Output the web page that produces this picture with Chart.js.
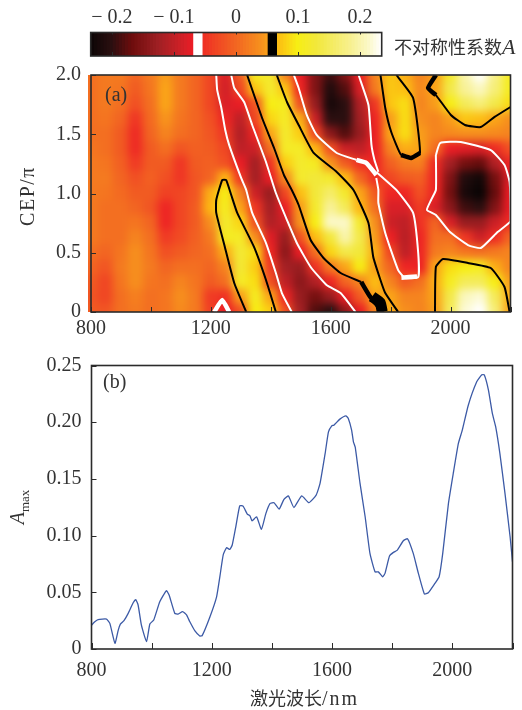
<!DOCTYPE html>
<html>
<head>
<meta charset="utf-8">
<script src="https://cdn.jsdelivr.net/npm/chart.js@4"></script>
<style>
html, body { margin: 0; padding: 0; background: #fff; }
body { position: relative; width: 522px; height: 710px; overflow: hidden; }
canvas { position: absolute; left: 0; }
.txt { position: absolute; color: #333; white-space: nowrap; font-family: "Liberation Serif", serif; font-size: 20px; line-height: 1; }
.cjk { font-family: "Noto Sans CJK SC", sans-serif; font-size: 18px; }
.rot { transform: translate(-50%, -50%) rotate(-90deg); }
sub { font-size: 13px; line-height: 0; }
</style>
</head>
<body>
<canvas id="barChart" width="522" height="62" style="top:0"></canvas>
<canvas id="heatChart" width="522" height="280" style="top:60px"></canvas>
<canvas id="lineChart" width="522" height="365" style="top:345px"></canvas>

<div class="txt" style="left:105px;top:84px">(a)</div>
<div class="txt" style="left:103px;top:371px">(b)</div>
<div class="txt cjk" style="left:394px;top:36px">不对称性系数<i style="font-family:'Liberation Serif',serif;font-size:22px">A</i></div>
<div class="txt rot" style="left:27px;top:196px;letter-spacing:1.5px">CEP/π</div>
<div class="txt rot" style="left:17px;top:507px"><i>A</i><sub>max</sub></div>
<div class="txt" style="left:250px;top:688px"><span class="cjk">激光波长</span><span style="letter-spacing:2px">/nm</span></div>

<script>
// ---- panel (b) curve
const curveNm = [800, 811, 822, 850, 861, 878, 889, 896, 908, 922, 939, 947, 955, 966, 983, 994, 1007, 1027, 1049, 1058,
    1077, 1088, 1103, 1116, 1127, 1144, 1160, 1168, 1194, 1216, 1227, 1238, 1249, 1260, 1268, 1280, 1293, 1304, 1318, 1327,
    1334, 1349, 1365, 1380, 1394, 1407, 1424, 1440, 1455, 1473, 1499, 1523, 1547, 1560, 1577, 1588, 1599, 1606, 1626, 1646,
    1654, 1665, 1671, 1677, 1693, 1710, 1726, 1743, 1754, 1768, 1776, 1791, 1804, 1817, 1837, 1851, 1870, 1887, 1907, 1920,
    1942, 1956, 1968, 1987, 2003, 2020, 2033, 2053, 2081, 2098, 2106, 2120, 2133, 2144, 2158, 2175, 2192, 2200];
const curveAmax = [.021, .024, .026, .0264, .0226, .005, .0167, .022, .025, .0314, .041, .0435, .0388, .021, .0065, .022, .0256, .0417, .0514, .0476,
    .0314, .0308, .033, .03, .024, .0159, .0115, .0118, .0285, .046, .064, .083, .0893, .0878, .0917, .108, .1263, .126, .119, .1175,
    .113, .1166, .1055, .1196, .1284, .129, .1234, .132, .135, .1248, .135, .129, .1357, .146, .1725, .1915, .1968, .1974, .2027, .2056,
    .2033, .193, .1827, .178, .146, .1166, .0843, .068, .068, .0637, .0667, .082, .0852, .0872, .0955, .0972, .0843, .0667, .0485, .0496,
    .0579, .0637, .0843, .1284, .1548, .1813, .193, .215, .2356, .2418, .2418, .2283, .2077, .196, .1725, .1372, .099, .077];

// ---- panel (a) map, one row per CEP value, columns follow heatNm
const heatNm = [800, 850, 900, 950, 1000, 1050, 1100, 1150, 1200, 1250, 1300, 1350, 1400, 1450, 1500, 1550, 1600, 1650, 1700, 1750, 1800, 1850, 1900, 1950, 2000, 2050, 2100, 2150, 2200];
const heatCep = [2, 1.875, 1.75, 1.625, 1.5, 1.375, 1.25, 1.125, 1, .875, .75, .625, .5, .375, .25, .125, 0];
const heatRows = [
    [.01, .02, .02, 0, .02, .05, .02, 0, -.03, -.08, -.01, .11, .12, .03, -.07, -.15, -.19, -.15, -.065, .03, .075, .06, .03, .05, .12, .2, .235, .18, .11],
    [.01, .02, .015, -.01, .015, .055, .02, 0, -.03, -.085, -.03, .075, .12, .075, -.06, -.15, -.21, -.18, -.08, .02, .075, .07, .035, .055, .14, .19, .21, .17, .11],
    [.01, .02, .01, -.02, .01, .055, .02, 0, -.03, -.08, -.07, -.015, .1, .11, -.02, -.13, -.22, -.2, -.11, -.045, .075, .09, .03, .05, .1, .15, .17, .14, .09],
    [.01, .015, 0, -.045, .005, .045, .015, 0, -.02, -.06, -.1, -.03, .085, .115, .06, -.09, -.2, -.2, -.12, -.06, .05, .09, .04, .03, .05, .075, .07, .055, .04],
    [.01, .01, -.01, -.055, 0, .03, .01, 0, -.015, -.045, -.11, -.06, .055, .12, .08, -.03, -.14, -.18, -.13, -.065, .055, .09, .05, .03, .035, .04, .04, .035, .03],
    [.015, .01, -.01, -.055, -.01, .01, -.015, -.005, -.01, -.03, -.1, -.09, .01, .115, .115, .065, -.02, -.09, -.1, -.065, .03, .06, .055, .01, -.07, -.075, -.08, -.055, -.02],
    [.02, .015, -.005, -.04, -.01, -.01, -.045, -.01, -.005, -.02, -.07, -.12, -.05, .08, .12, .11, .045, -.01, -.05, -.06, -.005, .02, .025, -.055, -.12, -.16, -.17, -.11, -.06],
    [.02, .02, 0, -.02, -.005, -.02, -.045, -.015, 0, .065, -.045, -.12, -.07, .035, .12, .13, .12, .07, 0, -.05, -.03, -.01, -.005, -.06, -.15, -.21, -.225, -.16, -.08],
    [.02, .015, .005, -.01, -.01, -.035, -.03, -.015, .06, .1, .03, -.09, -.13, -.03, .07, .13, .16, .12, .055, -.01, -.06, -.06, -.02, -.06, -.16, -.22, -.235, -.17, -.07],
    [.02, .01, .01, 0, -.015, -.06, -.03, -.01, .065, .11, .055, -.045, -.12, -.07, .05, .12, .19, .15, .065, .01, -.08, -.08, -.04, -.08, -.14, -.19, -.2, -.15, -.07],
    [.02, .01, .01, .015, 0, -.06, -.03, -.01, .04, .12, .085, -.02, -.11, -.09, .045, .1, .215, .215, .12, .04, -.09, -.1, -.05, 0, -.08, -.13, -.13, -.09, -.055],
    [.02, .01, .01, .03, .01, -.04, -.025, -.005, .02, .11, .115, .04, -.075, -.13, -.02, .07, .13, .2, .14, .05, -.065, -.105, -.06, .01, .01, -.045, -.09, -.055, 0],
    [.01, 0, .015, .04, .015, -.02, -.01, 0, .01, .06, .125, .09, -.06, -.14, -.07, .01, .085, .14, .13, .06, -.03, -.1, -.06, .02, .03, .015, .01, .02, .03],
    [0, -.015, .02, .04, .02, 0, .01, .01, 0, .03, .125, .08, -.04, -.12, -.13, -.05, .02, .055, .1, .05, 0, -.06, -.065, .055, .09, .1, .11, .06, .03],
    [-.01, -.03, .015, .04, .015, .01, .03, .015, -.01, .01, .115, .09, -.02, -.1, -.14, -.11, -.06, 0, .03, .07, .03, -.01, .01, .06, .11, .15, .15, .1, .05],
    [-.015, -.03, .01, .025, .01, .015, .04, .02, -.04, -.05, .05, .11, .055, -.06, -.13, -.16, -.13, -.07, -.01, .055, .055, .03, .03, .055, .14, .21, .22, .15, .06],
    [-.01, -.015, .01, .02, .01, .015, .035, .02, -.035, -.07, -.02, .1, .08, -.02, -.12, -.18, -.2, -.14, -.07, .03, .06, .04, .03, .05, .15, .22, .235, .17, .055]
];

// ---- iso lines of the map, [nm, CEP]
const whiteLines = [
    [[1218, 2], [1221, 1.874], [1235, 1.722], [1248, 1.536], [1261, 1.41], [1301, 1.131], [1318, 1.03], [1338, .836], [1384, .582], [1417, .329], [1437, .16], [1470, 0]],
    [[1268, 2], [1278, 1.89], [1311, 1.772], [1338, 1.578], [1384, 1.266], [1417, 1.004], [1454, .776], [1487, .582], [1533, .38], [1586, .228], [1633, .16], [1683, 0]],
    [[1477, 2], [1493, 1.89], [1520, 1.663], [1553, 1.494], [1620, 1.342], [1686, 1.283]],
    [[1693, 2], [1726, 1.747], [1736, 1.41], [1746, 1.283], [1759, 1.182]],
    [[1752, 1.131], [1759, 1.03], [1759, .92], [1782, .667], [1825, .354], [1848, .287], [1892, .295], [1892, .498], [1875, .836], [1819, 1.03], [1775, 1.131], [1752, 1.182]],
    [[1951, 1.325], [1965, 1.426], [2034, 1.435], [2134, 1.367], [2180, 1.24], [2197, 1.097], [2200, .768], [2157, .675], [2101, .54], [2058, .565], [1998, .675], [1951, .819], [1921, .861], [1935, .945], [1951, 1.03], [1951, 1.325]]
];
const whiteThick = [
    [[1686, 1.283], [1719, 1.258], [1752, 1.156]],
    [[1836, .29], [1888, .3]],
    [[1211, 0], [1238, .101], [1261, 0]]
];
const blackLines = [
    [[1321, 2], [1371, 1.637], [1411, 1.384], [1444, 1.156], [1470, 1.03], [1493, .903], [1533, .608], [1576, .456], [1633, .329], [1702, .253]],
    [[1420, 2], [1454, 1.772], [1493, 1.578], [1543, 1.342], [1620, 1.182], [1676, 1.03], [1726, .751], [1742, .464], [1766, .27], [1782, .16], [1825, 0]],
    [[1318, 0], [1278, .245], [1245, .565], [1218, .836], [1218, .945], [1238, 1.114], [1251, 1.114], [1268, .987], [1288, .836], [1344, .549], [1384, .27], [1417, 0]],
    [[1766, 2], [1782, 1.722], [1802, 1.519], [1835, 1.325], [1868, 1.3], [1898, 1.342], [1875, 1.806], [1819, 2]],
    [[1951, 2], [1925, 1.89], [1951, 1.831], [2001, 1.663], [2048, 1.578], [2101, 1.561], [2147, 1.646], [2200, 1.73]],
    [[1948, 0], [1951, .38], [1975, .447], [2058, .414], [2134, .371], [2180, .211], [2197, 0]]
];
const blackThick = [
    [[1702, .253], [1732, .127], [1775, 0]],
    [[1951, 2], [1925, 1.89], [1951, 1.831]],
    [[1835, 1.325], [1868, 1.3], [1898, 1.342]]
];
const blackBlob = [[1738, .13], [1765, .08], [1772, 0]];

// ---- colour bar
const barLevels = [-.235, -.23, -.225, -.22, -.215, -.21, -.205, -.2, -.195, -.19, -.185, -.18, -.175, -.17, -.165, -.16, -.155, -.15, -.145, -.14, -.135, -.13, -.125, -.12,
    -.115, -.11, -.105, -.1, -.095, -.09, -.085, -.08, -.075, -.07, -.065, -.06, -.055, -.05, -.045, -.04, -.035, -.03, -.025, -.02, -.015, -.01, -.005, 0,
    .005, .01, .015, .02, .025, .03, .035, .04, .045, .05, .055, .06, .065, .07, .075, .08, .085, .09, .095, .1, .105, .11, .115, .12, .125, .13, .135, .14,
    .145, .15, .155, .16, .165, .17, .175, .18, .185, .19, .195, .2, .205, .21, .215, .22, .225, .23, .235];
const barTicks = [-.2, -.1, 0, .1, .2];
const colorStops = [[-.235, "#0a0505"], [-.2, "#2a0f10"], [-.166, "#6e0d0d"], [-.123, "#a02024"], [-.08, "#d92027"], [-.068, "#ed1c24"], [-.05, "#ef3124"],
    [0, "#f26522"], [.045, "#f7941d"], [.066, "#fdb813"], [.1, "#f7ee14"], [.13, "#f2e83a"], [.185, "#f7f08e"], [.215, "#fbf8c8"], [.235, "#ffffff"]];

const INK = "#2b2b2b";
const FONT = { family: "'Liberation Serif', serif", size: 20 };

function hexRgb(h) {
    return [1, 3, 5].map(i => parseInt(h.substr(i, 2), 16));
}

function valueColor(v) {
    for (let i = 1; i < colorStops.length; i++) {
        if (v <= colorStops[i][0]) {
            const a = colorStops[i - 1], b = colorStops[i];
            const t = Math.max(0, (v - a[0]) / (b[0] - a[0]));
            const ca = hexRgb(a[1]), cb = hexRgb(b[1]);
            return "rgb(" + ca.map((c, k) => Math.round(c + (cb[k] - c) * t)).join(",") + ")";
        }
    }
    return "#ffffff";
}

// the bar has the two marker bands, the map gets them from the iso lines
function barColor(v) {
    if (v >= -.066 && v <= -.054) return "#ffffff";
    if (v >= .054 && v <= .066) return "#000000";
    return valueColor(v);
}

function lineSet(points, color, width) {
    return {
        type: "scatter",
        data: points.map(p => ({ x: p[0], y: p[1] })),
        showLine: true,
        borderColor: color,
        borderWidth: width,
        pointRadius: 0,
        tension: 0.15,
        fill: false
    };
}

// frame round the plot area and ticks pointing inward
function framePlugin(xLen, yLen, topLen) {
    return {
        id: "frame",
        afterDraw(chart) {
            const a = chart.chartArea, ctx = chart.ctx;
            ctx.save();
            ctx.strokeStyle = INK;
            ctx.lineWidth = 1;
            ctx.beginPath();
            chart.scales.x.ticks.forEach(t => {
                const px = Math.round(chart.scales.x.getPixelForValue(t.value)) + .5;
                ctx.moveTo(px, a.bottom);
                ctx.lineTo(px, a.bottom - xLen);
                if (topLen) {
                    ctx.moveTo(px, a.top);
                    ctx.lineTo(px, a.top + topLen);
                }
            });
            if (yLen) {
                chart.scales.y.ticks.forEach(t => {
                    const py = Math.round(chart.scales.y.getPixelForValue(t.value)) + .5;
                    ctx.moveTo(a.left, py);
                    ctx.lineTo(a.left + yLen, py);
                });
            }
            ctx.stroke();
            ctx.lineWidth = 1.6;
            ctx.strokeRect(a.left, a.top, a.right - a.left, a.bottom - a.top);
            ctx.restore();
        }
    };
}

// soften the map cells, then trim to the image rectangle
const softenPlugin = {
    id: "soften",
    afterDatasetDraw(chart, args) {
        if (args.meta.label !== "map") return;
        const a = chart.chartArea, ctx = chart.ctx, c = chart.canvas;
        const tmp = document.createElement("canvas");
        tmp.width = c.width;
        tmp.height = c.height;
        tmp.getContext("2d").drawImage(c, 0, 0);
        ctx.save();
        ctx.filter = "blur(4px)";
        ctx.drawImage(tmp, 0, 0);
        ctx.restore();
        const l = a.left - 3;
        ctx.clearRect(0, 0, l, c.height);
        ctx.clearRect(a.right, 0, c.width - a.right, c.height);
        ctx.clearRect(0, 0, c.width, a.top);
        ctx.clearRect(0, a.bottom, c.width, c.height - a.bottom);
    }
};

function xAxis(height, pad) {
    return {
        type: "linear", min: 800, max: 2200,
        afterFit: s => { s.height = height; s.paddingLeft = 0; s.paddingRight = 0; },
        border: { display: false, z: 1 },
        grid: { display: false, drawTicks: false, z: 1 },
        ticks: {
            z: 1, stepSize: 200, autoSkip: false, maxRotation: 0, padding: pad, color: "#333", font: FONT,
            callback: v => (v % 400 === 0 ? String(v) : "")
        }
    };
}

function yAxis(min, max, step, width, fmt) {
    return {
        type: "linear", min: min, max: max,
        afterFit: s => { s.width = width; s.paddingTop = 0; s.paddingBottom = 0; },
        border: { display: false, z: 1 },
        grid: { display: false, drawTicks: false, z: 1 },
        ticks: {
            z: 1, stepSize: step, padding: 10, color: "#333", font: FONT,
            callback: v => (v === 0 ? "0" : v.toFixed(fmt))
        }
    };
}

// colour bar
new Chart(document.getElementById("barChart"), {
    type: "bar",
    data: {
        datasets: [{
            data: barLevels.map(v => ({ x: v, y: 1 })),
            backgroundColor: barLevels.map(barColor),
            barThickness: 4,
            borderWidth: 0
        }]
    },
    options: {
        responsive: false, animation: false, events: [],
        layout: { padding: { left: 90.7, right: 140.3 } },
        plugins: { legend: { display: false }, tooltip: { enabled: false } },
        scales: {
            x: {
                type: "linear", position: "top", min: -.234, max: .235, offset: false,
                afterFit: s => { s.height = 32.5; s.paddingLeft = 0; s.paddingRight = 0; },
                afterBuildTicks: s => { s.ticks = barTicks.map(v => ({ value: v })); },
                border: { display: false, z: 1 },
                grid: { display: false, drawTicks: false, z: 1 },
                ticks: {
                    z: 1, padding: 3, color: "#333", font: FONT, maxRotation: 0, autoSkip: false,
                    callback: v => (v === 0 ? "0" : (v < 0 ? "\u2212 " : "") + Math.abs(v).toFixed(1))
                }
            },
            x2: {
                type: "linear", position: "bottom", min: -.234, max: .235, offset: false,
                afterFit: s => { s.height = 6; s.paddingLeft = 0; s.paddingRight = 0; },
                border: { display: false },
                grid: { display: false, drawTicks: false },
                ticks: { display: false }
            },
            y: { display: false, min: 0, max: 1 }
        }
    },
    plugins: [framePlugin(4, 0, 2)]
});

// map data
const cellData = [];
const cellColors = [];
heatRows.forEach((row, r) => {
    row.forEach((v, c) => {
        cellData.push({ x: heatNm[c], y: heatCep[r] });
        cellColors.push(valueColor(v));
    });
});

const mapSets = [];
whiteThick.forEach(l => mapSets.push(lineSet(l, "#ffffff", 4.5)));
whiteLines.forEach(l => mapSets.push(lineSet(l, "#ffffff", 2)));
mapSets.push(lineSet(blackBlob, "#000000", 11));
blackThick.forEach(l => mapSets.push(lineSet(l, "#000000", 4.5)));
blackLines.forEach(l => mapSets.push(lineSet(l, "#000000", 2)));
mapSets.push({
    label: "map",
    type: "scatter",
    data: cellData,
    pointStyle: "rect",
    pointRadius: 11.5,
    pointBorderWidth: 0,
    pointBackgroundColor: cellColors,
    clip: false
});

new Chart(document.getElementById("heatChart"), {
    type: "scatter",
    data: { datasets: mapSets },
    options: {
        responsive: false, animation: false, events: [],
        layout: { padding: { top: 15, right: 9 } },
        plugins: { legend: { display: false }, tooltip: { enabled: false } },
        scales: {
            x: xAxis(28, 5),
            y: yAxis(0, 2, .5, 91, 1)
        }
    },
    plugins: [softenPlugin, framePlugin(5, 5, 0)]
});

// curve
new Chart(document.getElementById("lineChart"), {
    type: "line",
    data: {
        datasets: [{
            data: curveNm.map((x, i) => ({ x: x, y: curveAmax[i] })),
            borderColor: "#3c5aa6",
            borderWidth: 1.3,
            pointRadius: 0,
            tension: 0.15,
            fill: false
        }]
    },
    options: {
        responsive: false, animation: false, events: [],
        layout: { padding: { top: 20.5, right: 9.5 } },
        plugins: { legend: { display: false }, tooltip: { enabled: false } },
        scales: {
            x: xAxis(61, 10),
            y: yAxis(0, .25, .05, 91.5, 2)
        }
    },
    plugins: [framePlugin(6, 5, 0)]
});
</script>
</body>
</html>
